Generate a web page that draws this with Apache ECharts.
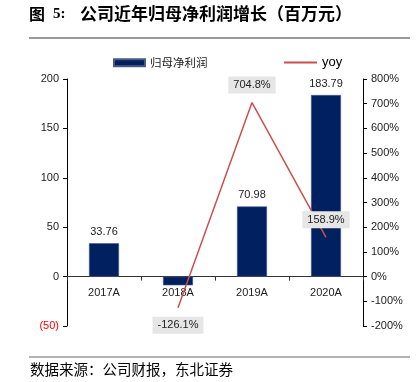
<!DOCTYPE html>
<html><head><meta charset="utf-8">
<script src="https://cdn.jsdelivr.net/npm/echarts@6/dist/echarts.min.js"></script>
<style>html,body{margin:0;padding:0;background:#fff}#c{width:416px;height:382px}</style>
</head><body><div id="c"></div>
<script>
var categories = ['2017A', '2018A', '2019A', '2020A'];
var profitValues = [33.76, -8.81, 70.98, 183.79];
var yoyValues = [null, -126.1, 704.8, 158.9];
var leftTicks = { min: -50, max: 200, interval: 50 };
var rightTicks = { min: -200, max: 800, interval: 100 };
var titleFig = '图';
var titleNum = '5:';
var titleText = '公司近年归母净利润增长（百万元）';
var sourceText = '数据来源：公司财报，东北证券';

var chart = echarts.init(document.getElementById('c'), null, { renderer: 'canvas' });
var latin = '"Liberation Sans", Arial, sans-serif';
var cjk = '"Noto Sans CJK SC", sans-serif';
var gridTop = 79, gridBottom = 56, chartH = 382;
var plotH = chartH - gridTop - gridBottom;
var zeroOffset = -plotH * (0 - leftTicks.min) / (leftTicks.max - leftTicks.min);

var yoyData = yoyValues.map(function (v) {
  if (v === null) return null;
  return { value: v, label: { position: v < 0 ? 'bottom' : 'top' } };
});

chart.setOption({
  animation: false,
  textStyle: { fontFamily: latin },
  graphic: [
    { type: 'text', left: 29, top: 6, style: { text: titleFig, font: 'bold 16px ' + cjk, fill: '#000' } },
    { type: 'text', left: 53, top: 7, style: { text: titleNum, font: 'bold 15px "Liberation Serif", serif', fill: '#000' } },
    { type: 'text', left: 80, top: 5, style: { text: titleText, font: 'bold 17px ' + cjk, fill: '#000' } },
    { type: 'line', shape: { x1: 29, y1: 38, x2: 410, y2: 38 }, style: { stroke: '#333', lineWidth: 1.2 } },
    { type: 'line', shape: { x1: 29, y1: 357, x2: 410, y2: 357 }, style: { stroke: '#666', lineWidth: 1 } },
    { type: 'text', left: 30, top: 362, style: { text: sourceText, font: '14.5px ' + cjk, fill: '#000' } }
  ],
  legend: [
    { data: ['归母净利润'], left: 108, top: 52, itemWidth: 31, itemHeight: 7, icon: 'rect', itemGap: 4,
      textStyle: { fontFamily: cjk, fontSize: 11.5, color: '#222' } },
    { data: ['yoy'], left: 279, top: 51, itemWidth: 33, itemHeight: 2, icon: 'rect', itemGap: 2,
      textStyle: { fontFamily: latin, fontSize: 13, color: '#000' } }
  ],
  grid: { left: 67, right: 53, top: gridTop, bottom: gridBottom },
  xAxis: {
    type: 'category', data: categories, boundaryGap: true,
    offset: zeroOffset,
    axisLine: { onZero: false, lineStyle: { color: '#333', width: 1 } },
    axisTick: { show: true, inside: false, length: 4, lineStyle: { color: '#333' } },
    axisLabel: { fontSize: 11, color: '#222', margin: 11, fontFamily: latin }
  },
  yAxis: [
    {
      type: 'value', min: leftTicks.min, max: leftTicks.max, interval: leftTicks.interval,
      splitLine: { show: false },
      axisLine: { show: true, lineStyle: { color: '#000', width: 1 } },
      axisTick: { show: true, length: 4, lineStyle: { color: '#000' } },
      axisLabel: {
        fontSize: 11, margin: 8, fontFamily: latin,
        formatter: function (v) { return v < 0 ? '(' + Math.abs(v) + ')' : String(v); },
        color: function (v) { return Number(v) < 0 ? '#ff0000' : '#222'; }
      }
    },
    {
      type: 'value', min: rightTicks.min, max: rightTicks.max, interval: rightTicks.interval,
      splitLine: { show: false },
      axisLine: { show: true, lineStyle: { color: '#000', width: 1 } },
      axisTick: { show: true, length: 4, lineStyle: { color: '#000' } },
      axisLabel: { fontSize: 11, color: '#222', margin: 8, fontFamily: latin, formatter: '{value}%' }
    }
  ],
  series: [
    {
      name: '归母净利润', type: 'bar', data: profitValues, yAxisIndex: 0, barWidth: 30,
      itemStyle: { color: '#002060', borderColor: '#4a5a85', borderWidth: 0.6 },
      label: {
        show: true, position: 'top', fontSize: 11, color: '#222', distance: 6,
        formatter: function (p) { return (p.value == null || p.value < 0) ? '' : Number(p.value).toFixed(2); }
      },
      z: 2
    },
    {
      name: 'yoy', type: 'line', data: yoyData, yAxisIndex: 1,
      symbol: 'circle', symbolSize: 0.01, showSymbol: true, connectNulls: false,
      lineStyle: { color: '#c9504d', width: 1.5 }, itemStyle: { color: '#c9504d' },
      label: {
        show: true, fontSize: 11, color: '#222', backgroundColor: '#e6e6e6', padding: [3, 5],
        formatter: function (p) { var v = (p.value && typeof p.value === 'object') ? p.value.value : p.value; return v == null ? '' : Number(v).toFixed(1) + '%'; },
        distance: 9
      },
      z: 3
    }
  ]
});
</script></body></html>
